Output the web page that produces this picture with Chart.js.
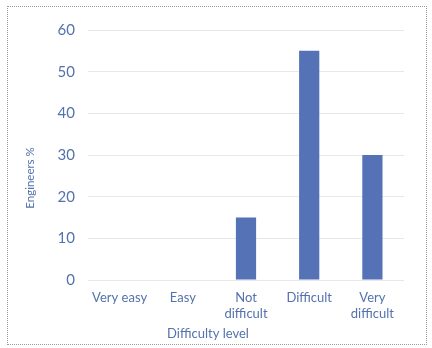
<!DOCTYPE html>
<html>
<head>
<meta charset="utf-8">
<script src="https://cdn.jsdelivr.net/npm/chart.js@4"></script>
<style>
  body { margin: 0; background: #fff; }
  #wrap { position: relative; width: 432px; height: 348px; }
  #frame { position: absolute; left: 7px; top: 6px; width: 418px; height: 337px;
           border: 1px dotted #9a9a9a; pointer-events: none; }
</style>
</head>
<body>
<div id="wrap">
  <canvas id="chart" width="432" height="348"></canvas>
  <div id="frame"></div>
</div>
<script>
// Data
const categories = ['Very easy', 'Easy', ['Not', 'difficult'], 'Difficult', ['Very', 'difficult']];
const engineersPct = [0, 0, 15, 55, 30];
const yTicks = [0, 10, 20, 30, 40, 50, 60];
const xTitle = 'Difficulty level';
const yTitle = 'Engineers %';

const textColor = '#5472ad';
const barColor = '#5572b6';

// axis titles sit off-centre in the original, so draw them by hand
const axisTitles = {
    id: 'axisTitles',
    afterDraw(chart) {
        const c = chart.ctx;
        c.save();
        c.fillStyle = textColor;
        c.textAlign = 'center';
        c.textBaseline = 'middle';
        c.font = '13px Lato';
        c.fillText(xTitle, 208, 334);
        c.font = '11.5px Lato';
        c.translate(30, 178);
        c.rotate(-Math.PI / 2);
        c.fillText(yTitle, 0, 0);
        c.restore();
    }
};

const ctx = document.getElementById('chart').getContext('2d');
const chart = new Chart(ctx, {
    type: 'bar',
    data: {
        labels: categories,
        datasets: [{ label: yTitle, data: engineersPct, backgroundColor: barColor,
                     barPercentage: 0.32, categoryPercentage: 1 }]
    },
    options: {
        responsive: false,
        animation: false,
        layout: { padding: { left: 0, right: 28, top: 30, bottom: 0 } },
        plugins: { legend: { display: false }, tooltip: { enabled: false } },
        scales: {
            x: {
                grid: { display: false, drawTicks: false },
                border: { display: false },
                ticks: { color: textColor, font: { family: 'Lato', size: 13 }, padding: 10, maxRotation: 0 },
                afterFit: (s) => { s.height = 68; }
            },
            y: {
                min: 0, max: 60,
                afterBuildTicks: (s) => { s.ticks = yTicks.map(v => ({ value: v })); },
                grid: { color: '#e8e8e8', drawTicks: false },
                border: { display: false },
                ticks: { color: textColor, font: { family: 'Lato', size: 15 }, padding: 13 },
                afterFit: (s) => { s.width = 88; }
            }
        }
    },
    plugins: [axisTitles]
});
</script>
</body>
</html>
